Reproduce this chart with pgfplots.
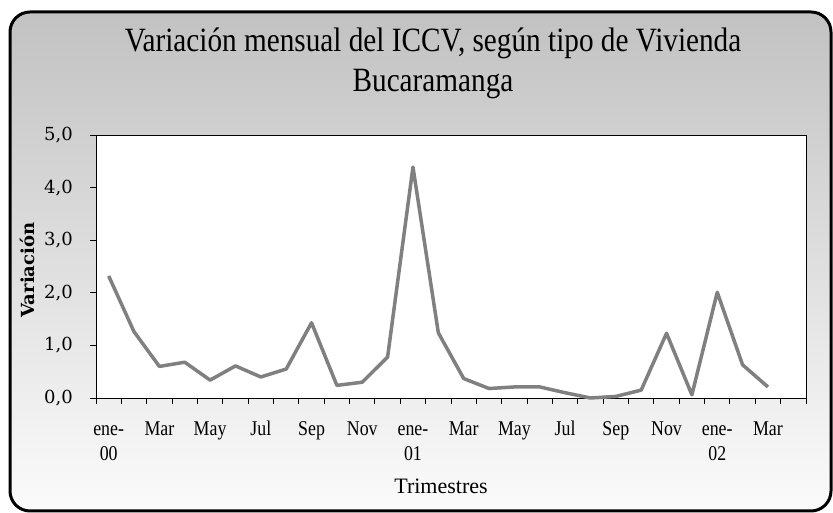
\documentclass[border=0pt]{standalone}
\usepackage{pgfplots}
\pgfplotsset{compat=1.18}
\usepackage{fontspec}
\setmainfont{Liberation Serif}
\newfontfamily\titlefont[FakeStretch=0.86]{Liberation Serif}
\newfontfamily\tickfont[FakeStretch=0.85]{Liberation Serif}
\newfontfamily\dejaserif{DejaVu Serif}
\begin{document}
\begin{tikzpicture}
\useasboundingbox (0pt,0pt) rectangle (833pt,513pt);
\shade[top color=gray!48, bottom color=gray!3, rounded corners=20pt] (10pt,2pt) rectangle (831pt,501pt);
\draw[line width=3pt, rounded corners=20pt] (10pt,2pt) rectangle (831pt,501pt);
\node[anchor=base, inner sep=0pt, font=\titlefont\fontsize{34}{40}\selectfont] at (433pt,461pt) {Variación mensual del ICCV, según tipo de Vivienda};
\node[anchor=base, inner sep=0pt, font=\titlefont\fontsize{34}{40}\selectfont] at (433pt,421pt) {Bucaramanga};
\node[anchor=base, inner sep=0pt, font=\fontsize{22}{26}\selectfont] at (441pt,19pt) {Trimestres};
\node[rotate=90, inner sep=0pt, font=\dejaserif\bfseries\fontsize{18}{20}\selectfont] at (27pt,243pt) {Variación};
\begin{axis}[
  at={(96pt,115pt)}, anchor=south west,
  width=710pt, height=263pt, scale only axis,
  xmin=-0.5, xmax=27.5, ymin=0, ymax=5,
  axis background/.style={fill=white},
  axis line style={black, line width=0.9pt},
  tick style={black, line width=0.9pt},
  tick align=outside, major tick length=6pt,
  ytick={0,1,2,3,4,5},
  yticklabel={\pgfmathprintnumber[use comma, fixed, fixed zerofill, precision=1]{\tick}},
  yticklabel style={font=\dejaserif\fontsize{18}{20}\selectfont, inner sep=0pt, xshift=-17pt},
  /pgf/number format/assume math mode=true,
  xtick={-0.5,0.5,...,27.5},
  xticklabels={},
  xtick pos=bottom, ytick pos=left,
  extra x ticks={0,2,...,26},
  extra x tick labels={{\strut ene-\\[2pt]00},{\strut Mar},{\strut May},{\strut Jul},{\strut Sep},{\strut Nov},{\strut ene-\\[2pt]01},{\strut Mar},{\strut May},{\strut Jul},{\strut Sep},{\strut Nov},{\strut ene-\\[2pt]02},{\strut Mar}},
  extra x tick style={major tick length=0pt},
  xticklabel style={font=\tickfont\fontsize{21}{23}\selectfont, align=center, inner sep=0pt, yshift=-21pt},
  clip=false,
]
\addplot[color=gray, line width=3.5pt, line join=round] coordinates {
(0,2.32) (1,1.26) (2,0.60) (3,0.68) (4,0.34) (5,0.61) (6,0.40) (7,0.55) (8,1.43)
(9,0.24) (10,0.30) (11,0.78) (12,4.39) (13,1.24) (14,0.37) (15,0.18) (16,0.21)
(17,0.21) (18,0.10) (19,0.00) (20,0.03) (21,0.15) (22,1.23) (23,0.06) (24,2.01)
(25,0.63) (26,0.21)
};
\end{axis}
\end{tikzpicture}
\end{document}
